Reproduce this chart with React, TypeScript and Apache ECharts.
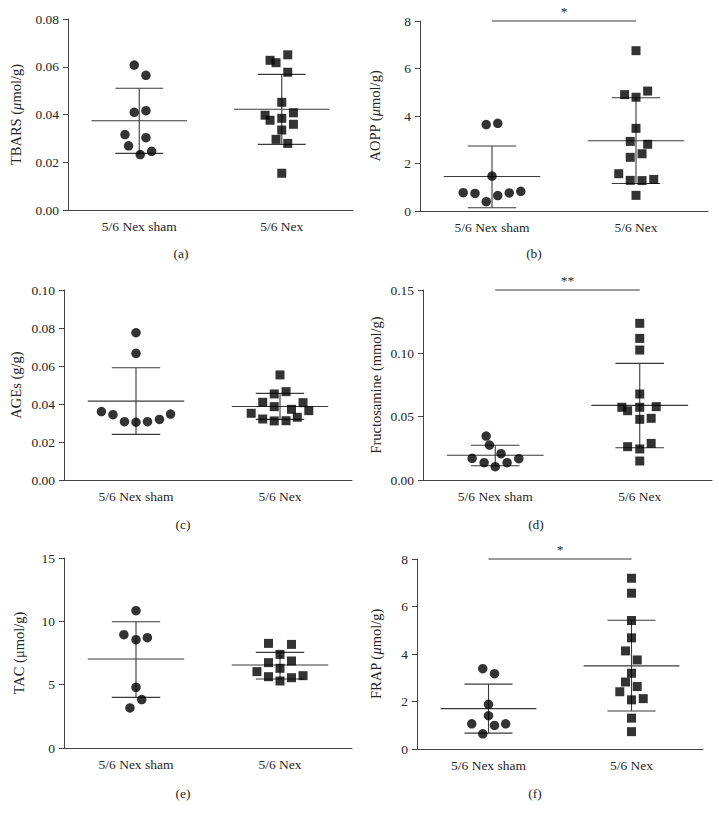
import React, { useEffect, useRef } from 'react';
import * as echarts from 'echarts';

// ---------- data ----------
const CATEGORIES = ['5/6 Nex sham', '5/6 Nex'];
const SUBTITLES = ['(a)', '(b)', '(c)', '(d)', '(e)', '(f)'];

// (a) TBARS
const tbarsSham = [0.0607, 0.0564, 0.0409, 0.0416, 0.0316, 0.0303, 0.0269, 0.0232, 0.0246];
const tbarsShamJitter = [-0.035, 0.047, -0.035, 0.047, -0.1, 0.047, -0.075, 0.007, 0.087];
const tbarsNex = [0.065, 0.0627, 0.0617, 0.0577, 0.0451, 0.0407, 0.0397, 0.0376, 0.0384, 0.0359, 0.0335, 0.0296, 0.0279, 0.0154];
const tbarsNexJitter = [0.042, -0.082, -0.04, 0.042, 0, 0.082, -0.117, -0.082, 0, 0.082, 0, -0.04, 0.042, 0];
const tbarsStats = [[0.0374, 0.0237, 0.051], [0.0422, 0.0275, 0.0568]]; // mean, mean-SD, mean+SD

// (b) AOPP
const aoppSham = [3.64, 3.69, 1.47, 0.77, 0.74, 0.76, 0.83, 0.65, 0.39];
const aoppShamJitter = [-0.04, 0.04, 0, -0.2, -0.118, 0.12, 0.2, 0.04, -0.04];
const aoppNex = [6.75, 4.9, 4.79, 5.05, 3.48, 2.93, 2.81, 2.26, 2.41, 1.57, 1.29, 1.28, 1.33, 0.66];
const aoppNexJitter = [0, -0.079, 0, 0.081, 0, -0.04, 0.081, -0.04, 0.042, -0.12, -0.04, 0.042, 0.123, 0];
const aoppStats = [[1.45, 0.14, 2.74], [2.96, 1.16, 4.77]];

// (c) AGEs
const agesSham = [0.0775, 0.0667, 0.036, 0.0344, 0.0307, 0.0304, 0.0307, 0.0319, 0.0347];
const agesShamJitter = [0, 0, -0.24, -0.16, -0.08, 0, 0.08, 0.163, 0.24];
const agesNex = [0.0553, 0.0453, 0.0465, 0.0409, 0.0386, 0.0407, 0.0372, 0.0365, 0.0351, 0.0321, 0.0311, 0.0312, 0.033];
const agesNexJitter = [0, -0.04, 0.042, -0.12, -0.04, 0.16, 0.08, 0.2, -0.2, -0.12, -0.04, 0.042, 0.12];
const agesStats = [[0.0415, 0.024, 0.0591], [0.0387, 0.0319, 0.0456]];

// (d) Fructosamine
const fruSham = [0.0347, 0.0276, 0.0208, 0.0171, 0.0137, 0.0137, 0.0168, 0.0105];
const fruShamJitter = [-0.063, -0.04, 0.04, -0.16, -0.077, 0.082, 0.163, 0];
const fruNex = [0.1237, 0.1118, 0.1026, 0.0679, 0.0574, 0.0547, 0.0574, 0.0579, 0.0479, 0.0487, 0.0263, 0.0289, 0.0245, 0.015];
const fruNexJitter = [0, 0, 0, 0, -0.124, -0.084, 0, 0.114, 0, 0.079, -0.084, 0.079, 0, 0];
const fruStats = [[0.0195, 0.0113, 0.0274], [0.0589, 0.0255, 0.0921]];

// (e) TAC
const tacSham = [10.84, 8.95, 8.55, 8.71, 4.79, 3.82, 3.16];
const tacShamJitter = [0, -0.084, 0, 0.079, 0, 0.04, -0.042];
const tacNex = [8.26, 8.18, 7.39, 6.74, 6.87, 6.29, 6.03, 5.63, 5.29, 5.55, 5.71];
const tacNexJitter = [-0.08, 0.08, 0, -0.08, 0.08, 0, -0.16, -0.08, 0, 0.08, 0.16];
const tacStats = [[7.03, 4.0, 9.97], [6.55, 5.45, 7.55]];

// (f) FRAP
const frapSham = [3.38, 3.17, 1.88, 1.4, 1.06, 0.99, 1.06, 0.64];
const frapShamJitter = [-0.04, 0.042, 0, 0, -0.117, 0.042, 0.12, -0.04];
const frapNex = [7.19, 6.56, 5.41, 4.68, 4.13, 3.75, 3.19, 2.82, 2.63, 2.41, 2.07, 2.12, 1.3, 0.73];
const frapNexJitter = [0, 0, 0, 0, -0.042, 0.04, 0, -0.042, 0.04, -0.082, 0, 0.082, 0, 0];
const frapStats = [[1.7, 0.67, 2.73], [3.5, 1.6, 5.42]];

// y axes: [min, max, interval, decimals]
const yScales = [
  [0, 0.08, 0.02, 2],
  [0, 8, 2, 0],
  [0, 0.1, 0.02, 2],
  [0, 0.15, 0.05, 2],
  [0, 15, 5, 0],
  [0, 8, 2, 0],
];
const yNames = ['TBARS ({i|μ}mol/g)', 'AOPP ({i|μ}mol/g)', 'AGEs (g/g)', 'Fructosamine (mmol/g)', 'TAC (μmol/g)', 'FRAP ({i|μ}mol/g)'];
const significance = ['', '*', '', '**', '', '*'];

const panelData = [
  [tbarsSham, tbarsShamJitter, tbarsNex, tbarsNexJitter, tbarsStats],
  [aoppSham, aoppShamJitter, aoppNex, aoppNexJitter, aoppStats],
  [agesSham, agesShamJitter, agesNex, agesNexJitter, agesStats],
  [fruSham, fruShamJitter, fruNex, fruNexJitter, fruStats],
  [tacSham, tacShamJitter, tacNex, tacNexJitter, tacStats],
  [frapSham, frapShamJitter, frapNex, frapNexJitter, frapStats],
] as any[];

// ---------- layout / style ----------
const GRIDS = [
  { left: 68, top: 19, width: 285, height: 191 },
  { left: 420, top: 21, width: 288, height: 190 },
  { left: 64, top: 290, width: 288, height: 190 },
  { left: 423, top: 290, width: 289, height: 190 },
  { left: 64, top: 558, width: 288, height: 190 },
  { left: 417, top: 559, width: 286, height: 190 },
];
const NAME_GAPS = [45, 38, 41, 40, 38, 34];
const SUB_POS = [[181, 253], [534, 253], [183, 524], [536, 524], [183, 793], [535, 793]];

const FONT = '"Liberation Serif", "Times New Roman", "DejaVu Serif", serif';
const TEXT = '#262626';
const AXIS = '#444';
const LINE = '#3a3a3a';
const DOT = '#000000';
const MEAN_HALF = 0.335;
const CAP_HALF = 0.168;

function buildOption() {
  const grid: any[] = [];
  const xAxis: any[] = [];
  const yAxis: any[] = [];
  const series: any[] = [];
  const graphic: any[] = [];

  GRIDS.forEach((g, i) => {
    grid.push({ ...g });
    const [sham, shamJ, nex, nexJ, stats] = panelData[i];
    const [mn, mx, iv, dec] = yScales[i];

    xAxis.push({
      type: 'category',
      gridIndex: i,
      data: CATEGORIES,
      boundaryGap: true,
      axisLine: { lineStyle: { color: AXIS, width: 1 } },
      axisTick: { alignWithLabel: true, length: 5, lineStyle: { color: AXIS } },
      axisLabel: { fontFamily: FONT, fontSize: 13.5, color: TEXT, margin: 9 },
      splitLine: { show: false },
    });
    xAxis.push({ type: 'value', gridIndex: i, min: 0, max: 2, show: false });

    yAxis.push({
      type: 'value',
      gridIndex: i,
      min: mn,
      max: mx,
      interval: iv,
      axisLine: { show: true, lineStyle: { color: AXIS, width: 1 } },
      axisTick: { show: true, length: 5, lineStyle: { color: AXIS } },
      splitLine: { show: false },
      axisLabel: {
        fontFamily: FONT,
        fontSize: 13.5,
        color: TEXT,
        margin: 9,
        formatter: (v: number) => v.toFixed(dec),
      },
      name: yNames[i],
      nameLocation: 'middle',
      nameGap: NAME_GAPS[i],
      nameTextStyle: {
        fontFamily: FONT,
        fontSize: 14.5,
        color: TEXT,
        rich: { i: { fontFamily: FONT, fontSize: 14.5, color: TEXT, fontStyle: 'italic' } },
      },
    });

    const xIdx = 2 * i + 1;
    // error bars (mean ± SD)
    series.push({
      type: 'custom',
      xAxisIndex: xIdx,
      yAxisIndex: i,
      z: 1,
      silent: true,
      data: [
        [0.5, stats[0][0], stats[0][1], stats[0][2]],
        [1.5, stats[1][0], stats[1][1], stats[1][2]],
      ],
      renderItem: (params: any, api: any) => {
        const c = api.value(0);
        const m = api.value(1);
        const lo = api.value(2);
        const hi = api.value(3);
        const ln = (a: number[], b: number[]) => {
          const p1 = api.coord(a);
          const p2 = api.coord(b);
          return {
            type: 'line',
            shape: { x1: p1[0], y1: p1[1], x2: p2[0], y2: p2[1] },
            style: { stroke: LINE, lineWidth: 1.1 },
          };
        };
        return {
          type: 'group',
          children: [
            ln([c - MEAN_HALF, m], [c + MEAN_HALF, m]),
            ln([c, lo], [c, hi]),
            ln([c - CAP_HALF, lo], [c + CAP_HALF, lo]),
            ln([c - CAP_HALF, hi], [c + CAP_HALF, hi]),
          ],
        };
      },
    });

    series.push({
      type: 'scatter',
      xAxisIndex: xIdx,
      yAxisIndex: i,
      z: 3,
      symbol: 'circle',
      symbolSize: 9.5,
      itemStyle: { color: DOT },
      data: sham.map((v: number, k: number) => [0.5 + shamJ[k], v]),
    });
    series.push({
      type: 'scatter',
      xAxisIndex: xIdx,
      yAxisIndex: i,
      z: 3,
      symbol: 'rect',
      symbolSize: 9,
      itemStyle: { color: DOT },
      data: nex.map((v: number, k: number) => [1.5 + nexJ[k], v]),
    });

    if (significance[i]) {
      const label = significance[i];
      series.push({
        type: 'custom',
        xAxisIndex: xIdx,
        yAxisIndex: i,
        z: 2,
        silent: true,
        clip: false,
        data: [[0.5, 1.5, mx]],
        renderItem: (params: any, api: any) => {
          const p1 = api.coord([api.value(0), api.value(2)]);
          const p2 = api.coord([api.value(1), api.value(2)]);
          return {
            type: 'group',
            children: [
              {
                type: 'line',
                shape: { x1: p1[0], y1: p1[1], x2: p2[0], y2: p2[1] },
                style: { stroke: LINE, lineWidth: 1.1 },
              },
              {
                type: 'text',
                x: (p1[0] + p2[0]) / 2,
                y: p1[1] - 3,
                style: {
                  text: label,
                  font: '13.5px ' + FONT,
                  fill: TEXT,
                  align: 'center',
                  verticalAlign: 'bottom',
                  textAlign: 'center',
                  textVerticalAlign: 'bottom',
                },
              },
            ],
          };
        },
      });
    }

    graphic.push({
      type: 'text',
      x: SUB_POS[i][0],
      y: SUB_POS[i][1],
      style: {
        text: SUBTITLES[i],
        font: '13.5px ' + FONT,
        fill: TEXT,
        align: 'center',
        verticalAlign: 'middle',
        textAlign: 'center',
        textVerticalAlign: 'middle',
      },
    });
  });

  return {
    animation: false,
    backgroundColor: '#ffffff',
    grid,
    xAxis,
    yAxis,
    series,
    graphic,
  };
}

export default function App() {
  const ref = useRef<HTMLDivElement>(null);
  useEffect(() => {
    if (!ref.current) return;
    const chart = echarts.init(ref.current, undefined, { renderer: 'svg' });
    chart.setOption(buildOption() as any);
    return () => chart.dispose();
  }, []);
  return (
    <div
      ref={ref}
      style={{ position: 'absolute', left: 0, top: 0, width: 719, height: 818, background: '#fff' }}
    />
  );
}
